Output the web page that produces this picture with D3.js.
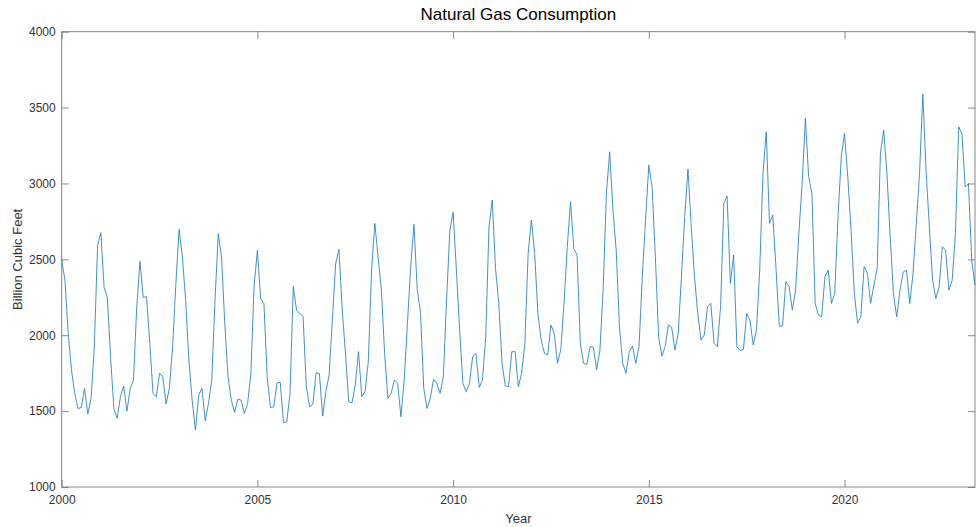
<!DOCTYPE html>
<html>
<head>
<meta charset="utf-8">
<script src="https://cdn.jsdelivr.net/npm/d3@7"></script>
<style>
  body { margin: 0; background: #fff; }
  text { font-family: "Liberation Sans", Arial, sans-serif; }
</style>
</head>
<body>
<div class="grafico"></div>
<script>
// monthly consumption, billion cubic feet (Jan..Dec)
var y2000 = [2500, 2360, 2010, 1770, 1616, 1517, 1524, 1649, 1480, 1583, 1923, 2592];
var y2001 = [2675, 2314, 2248, 1846, 1517, 1452, 1594, 1665, 1500, 1649, 1704, 2186];
var y2002 = [2487, 2248, 2255, 1950, 1616, 1594, 1748, 1726, 1546, 1649, 1923, 2340];
var y2003 = [2697, 2515, 2230, 1835, 1572, 1375, 1605, 1649, 1436, 1550, 1704, 2230];
var y2004 = [2669, 2515, 2077, 1726, 1572, 1491, 1579, 1572, 1484, 1550, 1748, 2329];
var y2005 = [2559, 2241, 2208, 1726, 1524, 1528, 1686, 1689, 1423, 1430, 1616, 2322];
var y2006 = [2164, 2142, 2125, 1660, 1528, 1546, 1752, 1748, 1467, 1630, 1740, 2110];
var y2007 = [2473, 2566, 2166, 1881, 1562, 1555, 1672, 1892, 1595, 1628, 1826, 2429];
var y2008 = [2737, 2517, 2298, 1881, 1584, 1617, 1705, 1683, 1463, 1705, 2078, 2451];
var y2009 = [2730, 2300, 2150, 1650, 1518, 1584, 1709, 1683, 1617, 1727, 2232, 2693];
var y2010 = [2810, 2429, 2034, 1683, 1628, 1683, 1860, 1880, 1656, 1705, 1990, 2715];
var y2011 = [2891, 2440, 2210, 1815, 1667, 1661, 1891, 1892, 1661, 1749, 1946, 2539];
var y2012 = [2759, 2539, 2144, 1968, 1881, 1870, 2067, 2012, 1815, 1903, 2210, 2583];
var y2013 = [2880, 2572, 2528, 1946, 1815, 1808, 1925, 1920, 1773, 1900, 2300, 2935];
var y2014 = [3209, 2825, 2561, 2056, 1815, 1749, 1892, 1929, 1815, 1925, 2386, 2759];
var y2015 = [3121, 2979, 2518, 1990, 1863, 1925, 2067, 2052, 1903, 2012, 2386, 2781];
var y2016 = [3095, 2720, 2386, 2144, 1969, 2002, 2188, 2210, 1947, 1925, 2188, 2869];
var y2017 = [2917, 2342, 2529, 1925, 1898, 1907, 2144, 2100, 1936, 2035, 2430, 3067];
var y2018 = [3341, 2737, 2792, 2440, 2060, 2061, 2353, 2320, 2166, 2298, 2671, 3001];
var y2019 = [3429, 3045, 2935, 2210, 2133, 2122, 2386, 2430, 2210, 2276, 2781, 3176];
var y2020 = [3330, 3045, 2693, 2276, 2079, 2122, 2452, 2410, 2210, 2330, 2439, 3197];
var y2021 = [3351, 3065, 2648, 2275, 2121, 2297, 2417, 2428, 2209, 2406, 2736, 3065];
var y2022 = [3590, 3087, 2714, 2362, 2242, 2318, 2582, 2560, 2297, 2362, 2670, 3373];
var y2023 = [3329, 2977, 2999, 2494, 2330];

var xTicks = [2000, 2005, 2010, 2015, 2020];
var yTicks = [1000, 1500, 2000, 2500, 3000, 3500, 4000];

var consumo = [].concat(y2000, y2001, y2002, y2003, y2004, y2005, y2006, y2007,
  y2008, y2009, y2010, y2011, y2012, y2013, y2014, y2015, y2016, y2017,
  y2018, y2019, y2020, y2021, y2022, y2023);

var dados = consumo.map(function(v, i){ return { ano: 2000 + i/12, valor: v }; });

var width = 976, height = 527;
var mLeft = 61.7, mTop = 31.7, mRight = 975, mBottom = 487;

var svg = d3.select(".grafico").append("svg")
  .attr("width", width)
  .attr("height", height);

var x = d3.scaleLinear()
  .domain([2000, d3.max(dados, function(d){ return d.ano; })])
  .range([mLeft, mRight]);

var y = d3.scaleLinear()
  .domain([1000, 4000])
  .range([mBottom, mTop]);

var corEixo = "#7a7a7a";
var corTexto = "#333333";

// eixos (ticks para dentro, em todos os lados)
function estilo(g, labels){
  g.select(".domain").remove();
  g.selectAll(".tick line").attr("stroke", corEixo).attr("stroke-width", 0.9);
  g.selectAll("text").attr("fill", corTexto).style("font-size", "12px");
  if(!labels) g.selectAll("text").remove();
}

svg.append("g")
  .attr("transform", "translate(0," + mBottom + ")")
  .call(d3.axisBottom(x).tickValues(xTicks).tickFormat(d3.format("d")).tickSizeInner(-7).tickSizeOuter(0).tickPadding(8))
  .call(function(g){ estilo(g, true); });

svg.append("g")
  .attr("transform", "translate(0," + mTop + ")")
  .call(d3.axisTop(x).tickValues(xTicks).tickSizeInner(-7).tickSizeOuter(0))
  .call(function(g){ estilo(g, false); });

svg.append("g")
  .attr("transform", "translate(" + mLeft + ",0)")
  .call(d3.axisLeft(y).tickValues(yTicks).tickFormat(d3.format("d")).tickSizeInner(-7).tickSizeOuter(0).tickPadding(6))
  .call(function(g){ estilo(g, true); });

svg.append("g")
  .attr("transform", "translate(" + mRight + ",0)")
  .call(d3.axisRight(y).tickValues(yTicks).tickSizeInner(-7).tickSizeOuter(0))
  .call(function(g){ estilo(g, false); });

// caixa
svg.append("rect")
  .attr("x", mLeft).attr("y", mTop)
  .attr("width", mRight - mLeft).attr("height", mBottom - mTop)
  .attr("fill", "none")
  .attr("stroke", corEixo)
  .attr("stroke-width", 0.9);

// linha da serie
var linha = d3.line()
  .x(function(d){ return x(d.ano); })
  .y(function(d){ return y(d.valor); });

svg.append("path")
  .datum(dados)
  .attr("fill", "none")
  .attr("stroke", "#1f80c0")
  .attr("stroke-width", 0.85)
  .attr("stroke-linejoin", "round")
  .attr("d", linha);

// textos
svg.append("text")
  .attr("x", (mLeft + mRight) / 2)
  .attr("y", 20)
  .attr("text-anchor", "middle")
  .attr("fill", "#000")
  .style("font-size", "17px")
  .text("Natural Gas Consumption");

svg.append("text")
  .attr("x", (mLeft + mRight) / 2)
  .attr("y", 523)
  .attr("text-anchor", "middle")
  .attr("fill", corTexto)
  .style("font-size", "13px")
  .text("Year");

svg.append("text")
  .attr("transform", "translate(22," + ((mTop + mBottom) / 2) + ") rotate(-90)")
  .attr("text-anchor", "middle")
  .attr("fill", corTexto)
  .style("font-size", "13px")
  .text("Billion Cubic Feet");
</script>
</body>
</html>
